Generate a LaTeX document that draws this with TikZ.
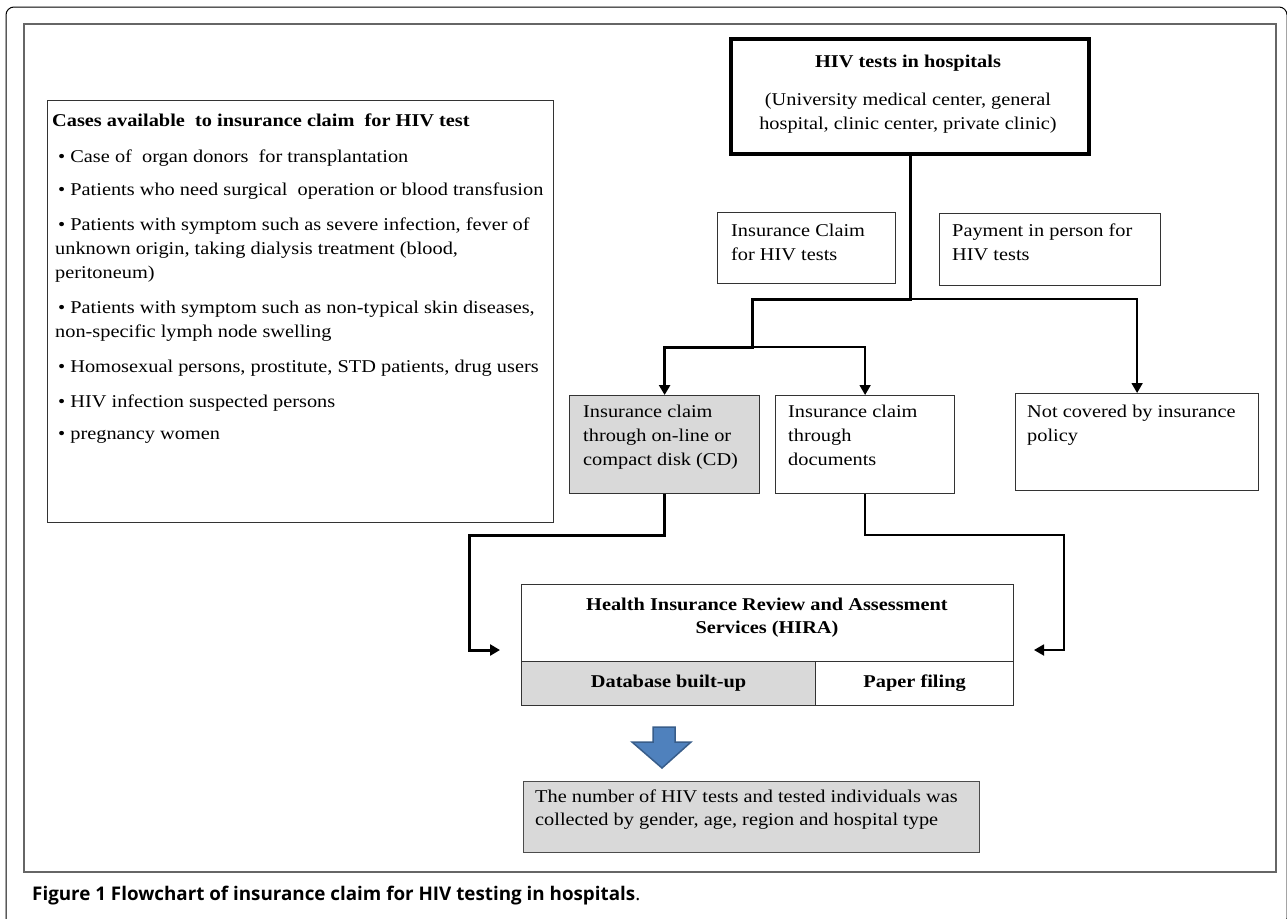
\documentclass[tikz,border=0pt]{standalone}
\usepackage{fontspec}
\setmainfont[FakeStretch=1.13]{Liberation Serif}
\newfontfamily\capfont{Open Sans}
\usetikzlibrary{arrows.meta}
\begin{document}
\begin{tikzpicture}[x=1pt,y=-1pt,
  box/.style={draw=black!80, line width=1.2pt, fill=white, inner sep=0pt, anchor=north west},
  gbox/.style={box, fill=black!15},
  txt/.style={font=\fontsize{18}{24}\selectfont, align=left, inner sep=0pt},
  btxt/.style={txt, font=\fontsize{18}{23}\selectfont\bfseries},
  thickc/.style={line width=3pt, draw=black},
  thinc/.style={line width=1.8pt, draw=black},
  tip/.style={-{Triangle[length=10pt,width=11pt]}}
]
\useasboundingbox (0,0) rectangle (1287,918);
\fill[white] (0,0) rectangle (1287,918);
% outer frame
\begin{scope}
\clip (0,0) rectangle (1287,918);
\draw[line width=1pt, rounded corners=8pt] (6,7) rectangle (1287,926);
\end{scope}
% inner frame
\draw[draw=black!60, line width=2pt] (24,24) rectangle (1276,872);

% boxes
\node[box, minimum width=506pt, minimum height=422pt] (cases) at (47,100) {};
\node[box, line width=4pt, draw=black, minimum width=358pt, minimum height=115pt] (hiv) at (729,37) {};
\node[box, minimum width=178pt, minimum height=71pt] (claim) at (717,212) {};
\node[box, minimum width=221pt, minimum height=72pt] (pay) at (939,213) {};
\node[gbox, minimum width=190pt, minimum height=98pt] (cd) at (569,395) {};
\node[box, minimum width=179pt, minimum height=98pt] (doc) at (775,395) {};
\node[box, minimum width=243pt, minimum height=97pt] (nc) at (1015,393) {};
\node[box, minimum width=492pt, minimum height=77pt] (hira) at (521,584) {};
\node[gbox, minimum width=294pt, minimum height=44pt] (db) at (521,661) {};
\node[box, minimum width=198pt, minimum height=44pt] (pf) at (815,661) {};
\node[gbox, draw=black!70, minimum width=456pt, minimum height=71pt] (res) at (523,781) {};

% texts
\node[btxt, anchor=west] (casest) at (52,120) {Cases available\ \ to insurance claim\ \ for HIV test};
\node[txt, anchor=north west] (c1) at (55,150) {\,•\ Case of\ \ organ donors\ \ for transplantation};
\node[txt, anchor=north west] (c2) at (55,183) {\,•\ Patients who need surgical\ \ operation or blood transfusion};
\node[txt, anchor=north west] (c3) at (55,218) {\,•\ Patients with symptom such as severe infection,\ fever of\\unknown origin, taking dialysis treatment (blood,\\peritoneum)};
\node[txt, anchor=north west] (c4) at (55,301) {\,•\ Patients with symptom such as non-typical skin diseases,\\non-specific lymph node swelling};
\node[txt, anchor=north west] (c5) at (55,360) {\,•\ Homosexual persons, prostitute, STD patients, drug users};
\node[txt, anchor=north west] (c6) at (55,395) {\,•\ HIV infection suspected persons};
\node[txt, anchor=north west] (c7) at (55,430) {\,•\ pregnancy women};

\node[btxt] (hivt) at (908,63) {HIV tests in hospitals};
\node[txt, align=center] (hivs) at (908,113) {(University medical center, general\\hospital, clinic center, private clinic)};
\node[txt, anchor=north west] (claimt) at (731,224) {Insurance Claim\\for HIV tests};
\node[txt, anchor=north west] (payt) at (952,224) {Payment in person for\\HIV tests};
\node[txt, anchor=north west] (cdt) at (583,405) {Insurance claim\\through on-line or\\compact disk (CD)};
\node[txt, anchor=north west] (doct) at (788,405) {Insurance claim\\through\\documents};
\node[txt, anchor=north west] (nct) at (1027,405) {Not covered by insurance\\policy};
\node[btxt, align=center] (hirat) at (767,618) {Health Insurance Review and Assessment\\Services (HIRA)};
\node[btxt] (dbt) at (db.center) {Database built-up};
\node[btxt] (pft) at (pf.center) {Paper filing};
\node[txt, anchor=north west, font=\fontsize{18}{23}\selectfont] (rest) at (535,790) {The number of HIV tests and tested individuals was\\collected by gender, age, region and hospital type};

% connectors
\coordinate (jb) at (752,299);
\coordinate (ja) at (hiv.south |- jb);
\coordinate (jc) at (752,347);
\draw[thickc, tip] (hiv.south) -- (ja) -- (jb) -- (jc) -| (cd.north);
\draw[thinc, tip] (ja) -| (nc.north);
\draw[thinc, tip] (jc) -| (doc.north);
\coordinate (la) at (500,650);
\coordinate (ra) at (1034,650);
\draw[thickc, tip] (cd.south) |- (469,535) |- (la);
\draw[thinc, tip] (doc.south) |- (1064,535) |- (ra);

% blue arrow
\draw[fill={rgb,255:red,79;green,129;blue,189}, draw={rgb,255:red,56;green,93;blue,138}, line width=1.5pt, line join=miter]
  (653,727) -- (675,727) -- (675,742) -- (691,742) -- (662,768) -- (632,742) -- (653,742) -- cycle;

% caption
\node[anchor=base west, inner sep=0pt, font=\capfont\bfseries\fontsize{18.8}{22}\selectfont] (cap) at (32,900) {Figure 1 Flowchart of insurance claim for HIV testing in hospitals\mdseries.};
\end{tikzpicture}
\end{document}
